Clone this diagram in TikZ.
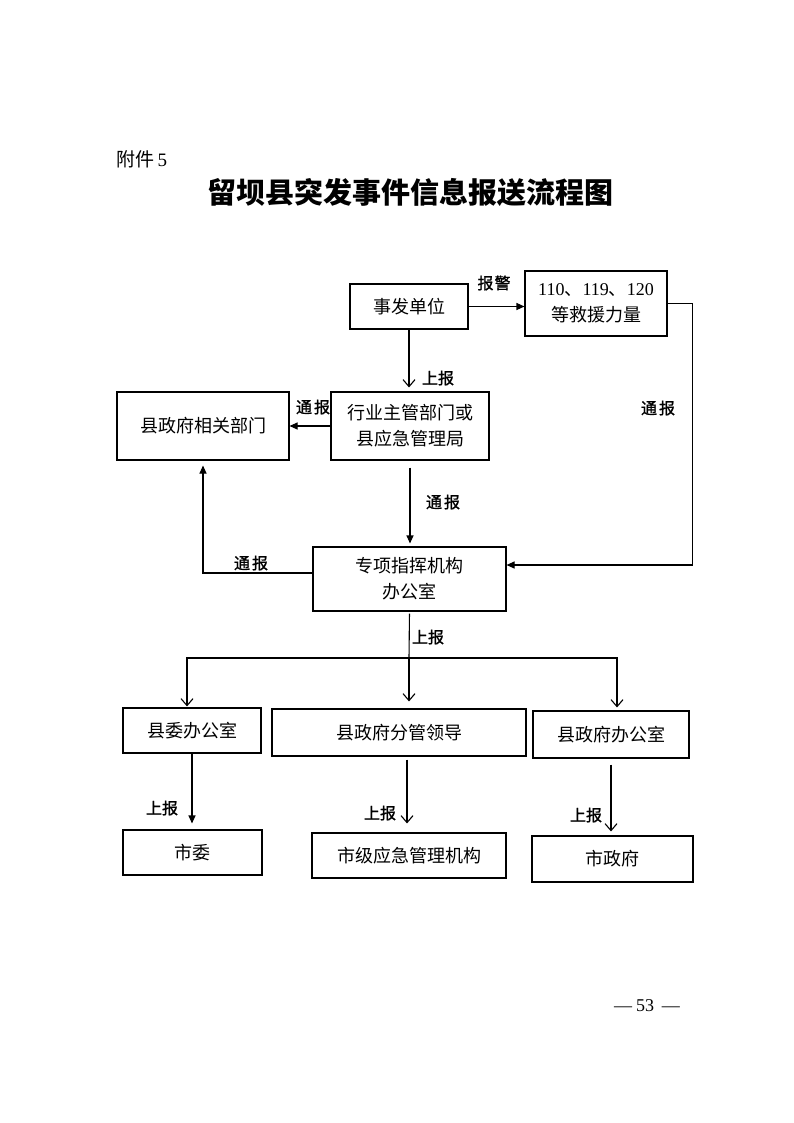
\documentclass[tikz,border=0pt]{standalone}
\usepackage{fontspec}
\newfontfamily\cjk{Noto Sans CJK SC}
\newfontfamily\cjkb[FakeBold=1.2]{Noto Sans CJK SC}
\newfontfamily\tnr{Liberation Serif}
\usetikzlibrary{arrows.meta}
\begin{document}
\begin{tikzpicture}[x=1pt,y=-1pt,line width=1.1pt,
  box/.style={draw, line width=1.1pt, inner sep=0pt, align=center,
    font=\cjk\fontsize{18}{26}\selectfont},
  lbl/.style={inner sep=0pt, font=\cjkb\fontsize{16}{18}\selectfont},
  fa/.style={-{Triangle[length=8pt,width=7pt]}},
  oa/.style={-{Straight Barb[length=7pt,width=12pt]}}]
\fill[white] (0,0) rectangle (793,1123);
\useasboundingbox (0,0) rectangle (793,1123);

% header
\node[inner sep=0pt, anchor=west, font=\cjk\fontsize{19}{22}\selectfont] (fujian) at (116,159) {附件{\tnr\fontsize{19}{22}\selectfont\,5}};
\node[inner sep=0pt, font=\cjk\bfseries\fontsize{29}{32}\selectfont] (title) at (410,192) {留坝县突发事件信息报送流程图};

% boxes
\node[box, minimum width=118pt, minimum height=45pt] (shifa) at (409,306.5) {事发单位};
\node[box, minimum width=142pt, minimum height=65pt] (jiuyuan) at (596,303.5) {{\tnr 110}、{\tnr 119}、{\tnr 120}\\等救援力量};
\node[box, minimum width=172pt, minimum height=68pt] (xiangguan) at (203,426) {县政府相关部门};
\node[box, minimum width=158pt, minimum height=68pt] (hangye) at (410,426) {行业主管部门或\\县应急管理局};
\node[box, minimum width=193pt, minimum height=64pt] (zhuanxiang) at (409.5,579) {专项指挥机构\\办公室};
\node[box, minimum width=138pt, minimum height=45pt] (xianwei) at (192,730.5) {县委办公室};
\node[box, minimum width=254pt, minimum height=47pt] (fenguan) at (399,732.5) {县政府分管领导};
\node[box, minimum width=156pt, minimum height=47pt] (xianzf) at (611,734.5) {县政府办公室};
\node[box, minimum width=139pt, minimum height=45pt] (shiwei) at (192.5,852.5) {市委};
\node[box, minimum width=194pt, minimum height=45pt] (shiji) at (409,855.5) {市级应急管理机构};
\node[box, minimum width=161pt, minimum height=46pt] (shizf) at (612.5,859) {市政府};

% connectors
\draw[fa] (shifa.east) -- (shifa.east -| jiuyuan.west);
\draw[fa] (jiuyuan.east) -- ++(25,0) |- ([yshift=14pt]zhuanxiang.east);
\draw[oa, shorten >=4pt] (shifa.south) -- (shifa.south |- hangye.north);
\draw[fa] (hangye.west) -- (xiangguan.east);
\draw[fa, shorten <=7pt, shorten >=3pt] (hangye.south) -- (hangye.south |- zhuanxiang.north);
\draw[fa, shorten >=5pt] ([yshift=6pt]zhuanxiang.west) -| (xiangguan.south);
\coordinate (split) at (409,658);
\draw[shorten <=2pt] (zhuanxiang.south) -- (split);
\draw[oa, shorten >=1pt] (split) -| ([xshift=-5pt]xianwei.north);
\draw[oa, shorten >=7pt] (split) -- (split |- fenguan.north);
\draw[oa, shorten >=3pt] (split) -| ([xshift=6pt]xianzf.north);
\draw[fa, shorten >=6pt] (xianwei.south) -- (xianwei.south |- shiwei.north);
\draw[oa, shorten <=3pt, shorten >=9pt] ([xshift=8pt]fenguan.south) -- ([xshift=8pt]fenguan.south |- shiji.north);
\draw[oa, shorten <=6pt, shorten >=4pt] (xianzf.south) -- (xianzf.south |- shizf.north);

% labels
\node[lbl] (l1) at (494,283) {报\hspace{1pt}警};
\node[lbl] (l2) at (438,378) {上报};
\node[lbl] (l3) at (313,407) {通\hspace{2pt}报};
\node[lbl] (l4) at (658,408) {通\hspace{2pt}报};
\node[lbl] (l5) at (443,502) {通\hspace{2pt}报};
\node[lbl] (l6) at (251,563) {通\hspace{2pt}报};
\node[lbl] (l7) at (428,637) {上报};
\node[lbl] (l8) at (162,808) {上报};
\node[lbl] (l9) at (380,813) {上报};
\node[lbl] (l10) at (586,815) {上报};

% page number
\node[inner sep=0pt, font=\tnr\fontsize{18}{20}\selectfont] (page) at (647,1006) {—\hspace{4pt}53\hspace{8pt}—};
\end{tikzpicture}
\end{document}
